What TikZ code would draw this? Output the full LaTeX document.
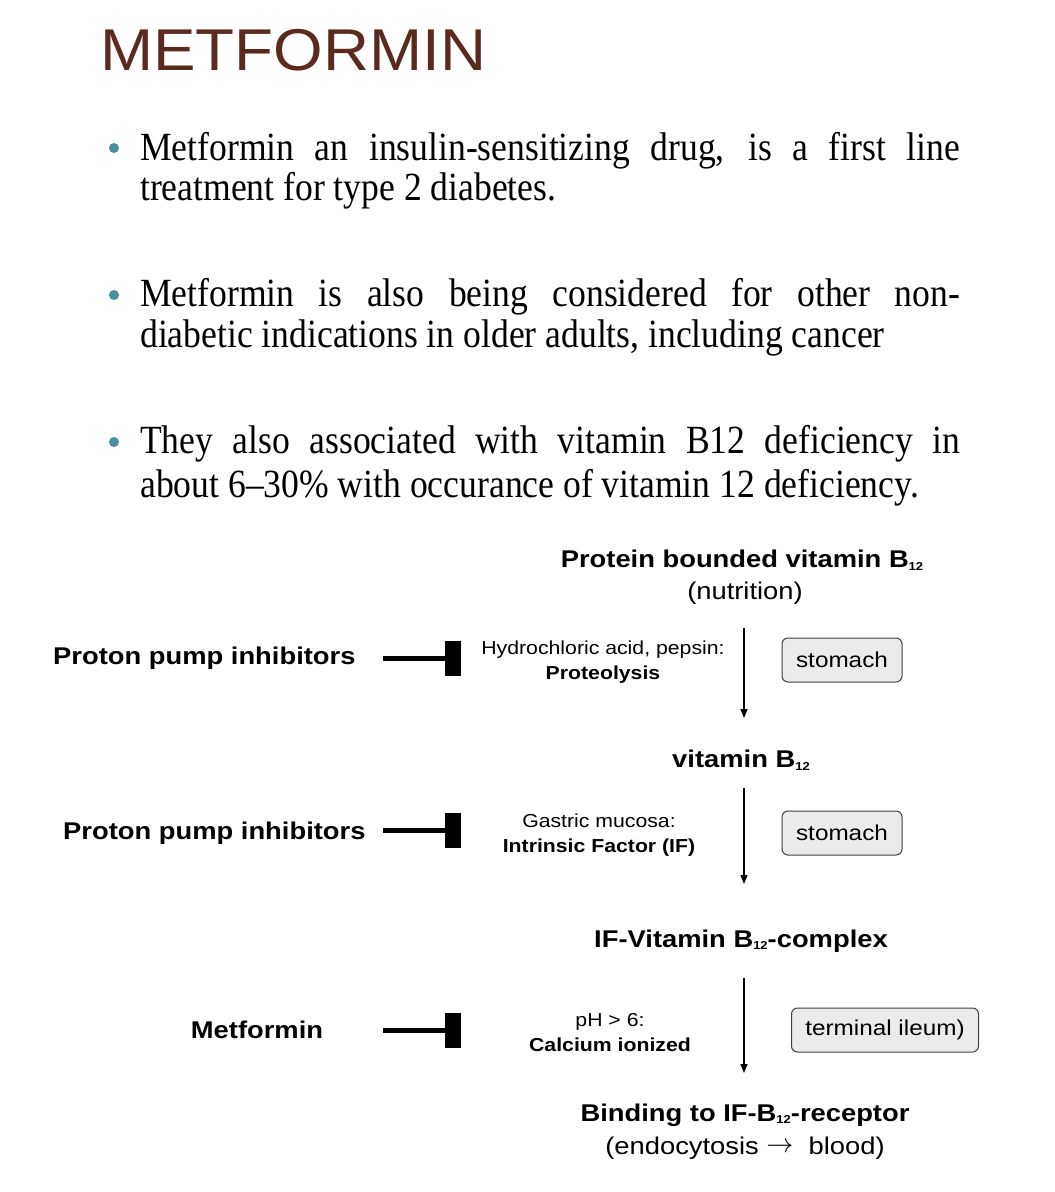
\documentclass[tikz,border=0pt]{standalone}
\usepackage{fontspec}
\usetikzlibrary{arrows.meta}
\setmainfont{Liberation Serif}
\newfontfamily\dsans[FakeStretch=1.13]{Liberation Sans}
\newfontfamily\titlefont[FakeStretch=1.08]{Liberation Sans}
\newfontfamily\bulfont[FakeStretch=0.89]{Liberation Serif}
\definecolor{titlebrown}{HTML}{5B2A1E}
\definecolor{bulletteal}{HTML}{4A8FA0}
\definecolor{boxgray}{HTML}{EBEBEB}
\newcommand{\subtw}{\raisebox{-0.2ex}{\fontsize{11.5}{11.5}\selectfont 12}}
\tikzset{
  bigb/.style={font=\dsans\bfseries\fontsize{24.2}{28}\selectfont, inner sep=0pt},
  bigr/.style={font=\dsans\fontsize{24.2}{28}\selectfont, inner sep=0pt},
  midr/.style={font=\dsans\fontsize{18.8}{25}\selectfont, align=center, inner sep=0pt},
  site/.style={draw=black!75, fill=boxgray, rounded corners=6pt, line width=1pt,
    minimum height=44pt, font=\dsans\fontsize{21.5}{24}\selectfont, inner sep=0pt},
  flow/.style={-{Triangle[length=9pt,width=7pt]}, line width=1.3pt},
  inhib/.style={line width=5pt},
  tbar/.style={fill=black, draw=none, minimum width=16pt, minimum height=35pt, inner sep=0pt},
  bline/.style={font=\bulfont\fontsize{40}{42}\selectfont, inner sep=0pt, anchor=base west},
  bdot/.style={circle, fill=bulletteal, draw=none, minimum size=10pt, inner sep=0pt}
}
\begin{document}
\begin{tikzpicture}[x=1pt,y=-1pt]
\useasboundingbox (0,0) rectangle (1055,1192);
\fill[white] (0,0) rectangle (1055,1192);
% title
\node[font=\titlefont\fontsize{59}{60}\selectfont, text=titlebrown, inner sep=0pt, anchor=base west] (title) at (100,70) {METFORMIN};
% bullets
\node[bdot] (d1) at (114,148) {};
\node[bline] (l11) at (140,160) {\makebox[820pt][s]{Metformin an insulin-sensitizing drug, is a first line}};
\node[bline] (l12) at (140,200) {treatment for type 2 diabetes.};
\node[bdot] (d2) at (114,295) {};
\node[bline] (l21) at (140,306) {\makebox[820pt][s]{Metformin is also being considered for other non-}};
\node[bline] (l22) at (140,347) {diabetic indications in older adults, including cancer};
\node[bdot] (d3) at (114,442) {};
\node[bline] (l31) at (140,453) {\makebox[820pt][s]{They also associated with vitamin B12 deficiency in}};
\node[bline] (l32) at (140,497) {about 6–30\% with occurance of vitamin 12 deficiency.};
% diagram
\node[bigb] (pb) at (742,560) {Protein bounded vitamin B\subtw};
\node[bigr] (nut) at (745,593) {(nutrition)};
\node[midr] (hcl) at (603,662) {Hydrochloric acid, pepsin:\\\textbf{Proteolysis}};
\node[site, minimum width=120pt] (st1) at (842,660) {stomach};
\coordinate (a1s) at (744,628);
\coordinate (a1e) at (744,718);
\draw[flow] (a1s) -- (a1e);
\node[bigb] (vit) at (741,760) {vitamin B\subtw};
\node[midr] (gm) at (599,835) {Gastric mucosa:\\\textbf{Intrinsic Factor (IF)}};
\node[site, minimum width=120pt] (st2) at (842,833) {stomach};
\coordinate (a2s) at (744,788);
\coordinate (a2e) at (744,884);
\draw[flow] (a2s) -- (a2e);
\node[bigb] (ifc) at (741,941) {IF-Vitamin B\subtw-complex};
\node[midr] (ph) at (610,1033) {pH > 6:\\\textbf{Calcium ionized}};
\node[site, minimum width=187pt] (il) at (885,1030) {terminal ileum)};
\coordinate (a3s) at (744,978);
\coordinate (a3e) at (744,1073);
\draw[flow] (a3s) -- (a3e);
\node[bigb] (bind) at (745,1115) {Binding to IF-B\subtw-receptor};
\node[bigr] (endo) at (745,1148) {(endocytosis \raisebox{0.1ex}{\resizebox{27pt}{!}{$\rightarrow$}}\ \ blood)};
% inhibitors
\node[bigb, anchor=west] (ppi1) at (53,658) {Proton pump inhibitors};
\node[tbar] (b1) at (453,658) {};
\coordinate (i1) at (383,658);
\draw[inhib] (i1) -- (b1.west);
\node[bigb, anchor=west] (ppi2) at (63,833) {Proton pump inhibitors};
\node[tbar] (b2) at (453,830) {};
\coordinate (i2) at (383,830);
\draw[inhib] (i2) -- (b2.west);
\node[bigb] (met) at (257,1030) {Metformin};
\node[tbar] (b3) at (453,1030) {};
\coordinate (i3) at (383,1030);
\draw[inhib] (i3) -- (b3.west);
\end{tikzpicture}
\end{document}
